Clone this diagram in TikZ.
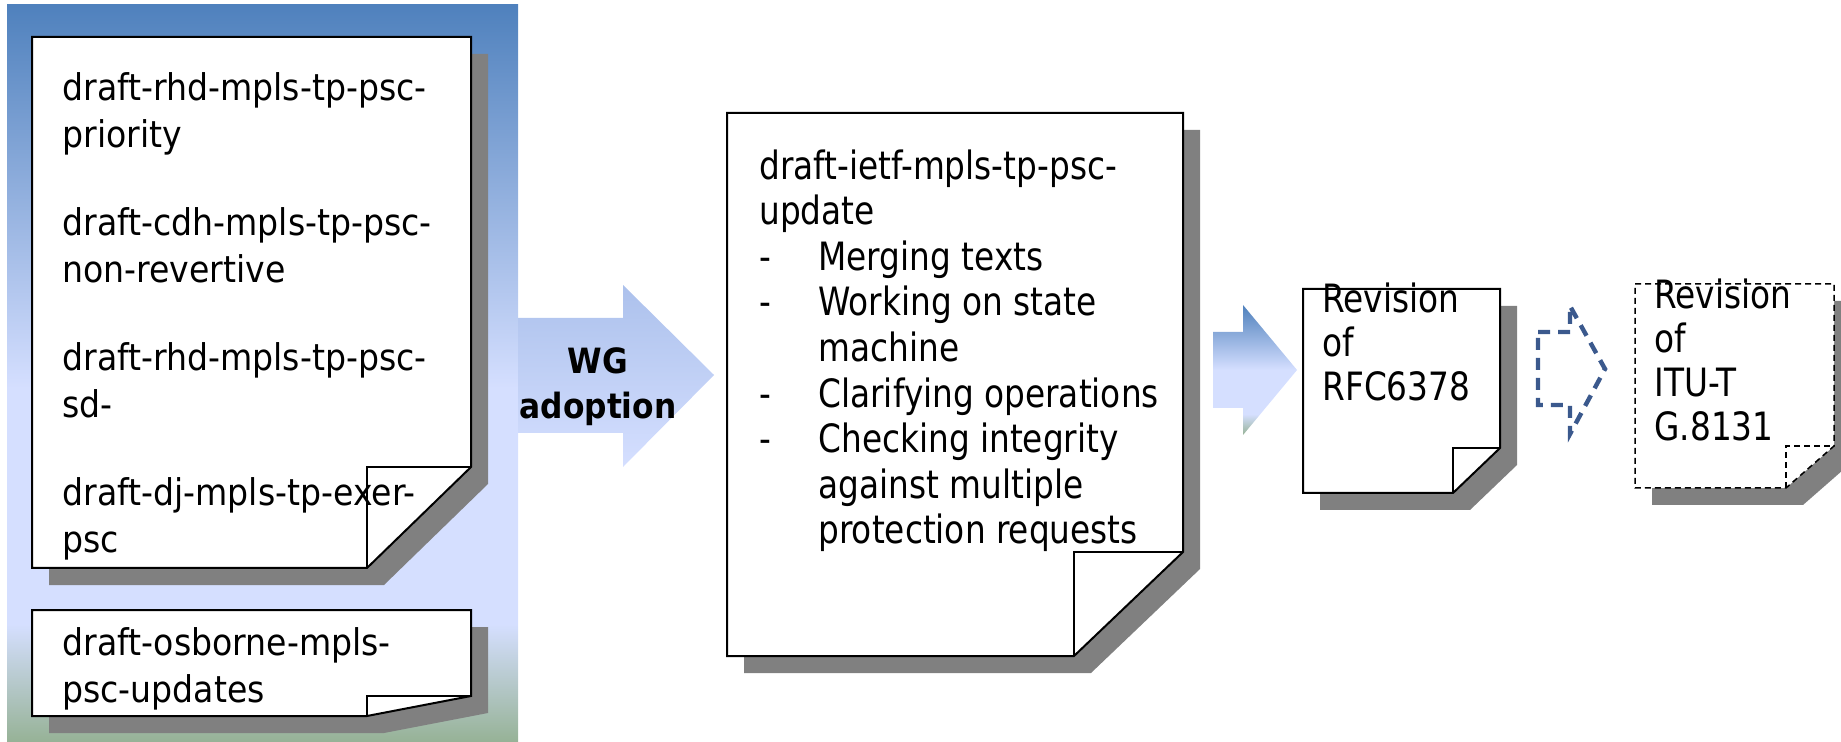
\documentclass[tikz,border=0pt]{standalone}
\usepackage{fontspec}
\setmainfont[FakeStretch=0.9]{DejaVu Sans}
\newfontfamily\narrowfont[FakeStretch=0.84]{DejaVu Sans}
\definecolor{panelblue}{RGB}{79,129,189}
\definecolor{panellav}{RGB}{213,223,255}
\definecolor{panelgreen}{RGB}{150,178,150}
\definecolor{wgtop}{RGB}{172,193,236}
\definecolor{shadowgray}{RGB}{128,128,128}
\definecolor{dasharrow}{RGB}{59,89,141}
\pgfdeclareverticalshading{panelfill}{100bp}{color(0bp)=(panelgreen); color(25bp)=(panelgreen); color(33bp)=(panellav); color(49bp)=(panellav); color(75bp)=(panelblue); color(100bp)=(panelblue)}
\pgfdeclareverticalshading{revfill}{100bp}{color(0bp)=(panelgreen); color(25bp)=(panelgreen); color(33bp)=(panellav); color(50bp)=(panellav); color(75bp)=(panelblue); color(100bp)=(panelblue)}
\begin{document}
\begin{tikzpicture}[
		x=0.5pt, y=-0.5pt,
		line join=miter,
		docshadow/.style={fill=shadowgray},
		docpage/.style={draw=black, line width=1pt, fill=white},
		docdashed/.style={draw=black, line width=0.75pt, dash pattern=on 3pt off 2pt, fill=white},
		doctext/.style={anchor=north west, align=left, inner sep=0pt, font=\fontsize{18.4}{23.5}\selectfont},
		revtext/.style={anchor=north west, align=left, inner sep=0pt, font=\narrowfont\fontsize{19.5}{22}\selectfont}
		]
		\useasboundingbox (0,0) rectangle (1841,742);
		\shade[shading=panelfill] (7,5) rectangle (518,742);
		\shade[top color=wgtop, bottom color=panellav] (518,318) -- (623,318) -- (623,285) -- (714,375) -- (623,467) -- (623,433) -- (518,433) -- cycle;
		\foreach \l/\t/\r/\b/\fx/\fy/\s in {32/37/471/568/367/467/docpage, 32/610/471/716/367/696/docpage, 727/113/1183/656/1074/552/docpage, 1303/289/1500/493/1453/448/docpage, 1635/284/1834/488/1786/446/docdashed}{
			\fill[docshadow, shift={(17,17)}] (\l,\t) -- (\r,\t) -- (\r,\fy) -- (\fx,\b) -- (\l,\b) -- cycle;
			\path[\s] (\l,\t) -- (\r,\t) -- (\r,\fy) -- (\fx,\b) -- (\l,\b) -- cycle;
			\draw[\s, fill=none] (\fx,\b) -- (\fx,\fy) -- (\r,\fy);
		}
		\node[doctext] (pscdrafts) at (62,72) {draft-rhd-mpls-tp-psc-\\priority\\[20.5pt]draft-cdh-mpls-tp-psc-\\non-revertive\\[20.5pt]draft-rhd-mpls-tp-psc-\\sd-\\[20.5pt]draft-dj-mpls-tp-exer-\\psc};
		\node[doctext] (osborne) at (62,627) {draft-osborne-mpls-\\psc-updates};
		\node[anchor=north, align=center, inner sep=0pt, font=\bfseries\fontsize{17.4}{22.5}\selectfont] (wg) at (598,347) {WG\\adoption};
		\node[revtext, font=\narrowfont\fontsize{19.5}{22.8}\selectfont] (ietf) at (759,149) {draft-ietf-mpls-tp-psc-\\update\\\makebox[29.5pt][l]{-}Merging texts\\\makebox[29.5pt][l]{-}Working on state\\\hspace*{29.5pt}machine\\\makebox[29.5pt][l]{-}Clarifying operations\\\makebox[29.5pt][l]{-}Checking integrity\\\hspace*{29.5pt}against multiple\\\hspace*{29.5pt}protection requests};
		\shade[shading=revfill] (1213,332) -- (1243,332) -- (1243,305) -- (1297,370) -- (1243,435) -- (1243,408) -- (1213,408) -- cycle;
		\node[revtext] (rfc) at (1322,282) {Revision\\of\\RFC6378};
		\draw[dasharrow, line width=2.2pt, dash pattern=on 6pt off 4pt] (1538,332) -- (1570,332) -- (1570,306) -- (1605,369) -- (1570,434) -- (1570,405) -- (1538,405) -- cycle;
		\node[revtext] (itu) at (1654,278) {Revision\\of\\ITU-T\\G.8131};
		\end{tikzpicture}
\end{document}
